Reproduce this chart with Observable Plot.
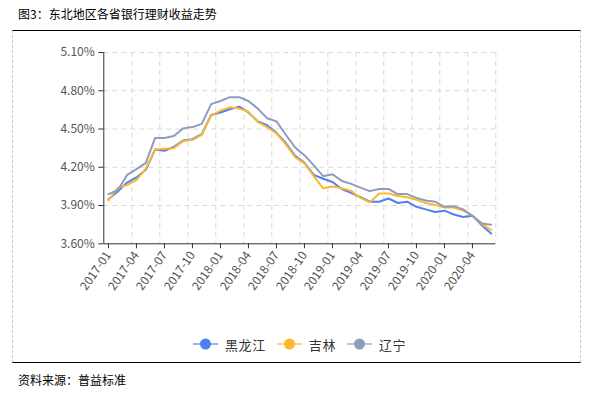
<!DOCTYPE html>
<html><head><meta charset="utf-8">
<script src="https://cdn.jsdelivr.net/npm/d3@7"></script>
<script src="https://cdn.jsdelivr.net/npm/@observablehq/plot@0.6"></script>
<style>
html,body{margin:0;padding:0;background:#fff;}
body{width:596px;height:393px;overflow:hidden;position:relative;font-family:"Microsoft YaHei","Noto Sans CJK SC",sans-serif;}
#title{position:absolute;left:18px;top:6px;font-size:12px;line-height:16px;color:#000;}
#frame{position:absolute;left:12px;top:30px;width:567px;height:331px;box-sizing:content-box;border-top:1.5px solid #000;border-bottom:1.5px solid #000;border-left:1px dashed #c8c8c8;border-right:1px dashed #c8c8c8;}
#chart{position:absolute;left:0;top:0;}
#legend{position:absolute;left:193px;top:336px;height:16px;display:flex;align-items:center;font-size:13px;color:#333;letter-spacing:0.6px;}
#legend .item{display:flex;align-items:center;margin-right:11px;}
#legend svg{margin-right:7px;}
#source{position:absolute;left:18px;top:372px;font-size:12px;line-height:16px;color:#000;}
</style></head>
<body>
<div id="title">图3：东北地区各省银行理财收益走势</div>
<div id="frame"></div>
<div id="chart"></div>
<div id="legend"></div>
<div id="source">资料来源：普益标准</div>
<script>
const months = ["2017-01","2017-02","2017-03","2017-04","2017-05","2017-06","2017-07","2017-08","2017-09","2017-10","2017-11","2017-12",
"2018-01","2018-02","2018-03","2018-04","2018-05","2018-06","2018-07","2018-08","2018-09","2018-10","2018-11","2018-12",
"2019-01","2019-02","2019-03","2019-04","2019-05","2019-06","2019-07","2019-08","2019-09","2019-10","2019-11","2019-12",
"2020-01","2020-02","2020-03","2020-04","2020-05","2020-06"];
const seriesNames = ["黑龙江","吉林","辽宁"];
const seriesColors = ["#4f80f2","#fdb92e","#909cbe"];
const heilongjiang = [3.95,4.01,4.08,4.12,4.18,4.34,4.33,4.36,4.41,4.42,4.46,4.61,
4.63,4.655,4.675,4.63,4.56,4.53,4.47,4.39,4.29,4.235,4.14,4.11,
4.085,4.03,4.00,3.965,3.93,3.93,3.955,3.92,3.93,3.89,3.87,3.85,
3.86,3.83,3.81,3.82,3.745,3.68];
const jilin = [3.94,4.04,4.06,4.10,4.19,4.34,4.345,4.35,4.405,4.415,4.455,4.605,
4.645,4.67,4.66,4.635,4.555,4.515,4.465,4.38,4.28,4.23,4.13,4.035,
4.05,4.035,4.015,3.96,3.925,3.995,3.995,3.975,3.965,3.945,3.92,3.905,
3.885,3.885,3.86,3.82,3.755,3.71];
const liaoning = [3.99,4.02,4.14,4.185,4.235,4.43,4.43,4.445,4.505,4.515,4.54,4.695,
4.72,4.75,4.75,4.72,4.66,4.585,4.56,4.455,4.355,4.295,4.215,4.13,
4.145,4.093,4.07,4.04,4.013,4.03,4.03,3.99,3.99,3.96,3.94,3.93,
3.89,3.895,3.87,3.82,3.76,3.75];
const yTicks = [3.6,3.9,4.2,4.5,4.8,5.1];
const tickEvery = 3;

const allSeries = [heilongjiang, jilin, liaoning];
const rows = [];
allSeries.forEach((arr, k) => arr.forEach((v, i) => rows.push({i, v, s: seriesNames[k]})));
const xTicks = months.map((m, i) => i).filter(i => i % tickEvery === 0);
const boundaries = d3.range(1, months.length / tickEvery + 1).map(k => k * tickEvery - 0.5);
const font = '"Microsoft YaHei","Noto Sans CJK SC",sans-serif';

const chart = Plot.plot({
  width: 596, height: 300,
  marginLeft: 103.3, marginRight: 100.7, marginTop: 52, marginBottom: 56.7,
  style: {background: "transparent", fontSize: "12px", fontFamily: font, color: "#555", overflow: "visible"},
  x: {type: "linear", domain: [-0.5, months.length - 0.5]},
  y: {domain: [yTicks[0], yTicks[yTicks.length - 1]]},
  color: {domain: seriesNames, range: seriesColors},
  marks: [
    Plot.gridY(yTicks.slice(1), {stroke: "#d9d9d9", strokeOpacity: 1, strokeDasharray: "5,4"}),
    Plot.gridX(boundaries, {stroke: "#d9d9d9", strokeOpacity: 1, strokeDasharray: "5,4"}),
    Plot.axisY(yTicks, {tickSize: 5, tickPadding: 4, stroke: "#333", fill: "#555", label: null, tickFormat: d => d.toFixed(2) + "%"}),
    Plot.axisX(xTicks, {tickSize: 5, tickPadding: 4, tickRotate: -55, stroke: "#333", fill: "#555", label: null, tickFormat: i => months[i]}),
    Plot.ruleX([-0.5], {stroke: "#333"}),
    Plot.ruleY([yTicks[0]], {stroke: "#333"}),
    Plot.line(rows, {x: "i", y: "v", z: "s", stroke: "s", strokeWidth: 2, strokeLinejoin: "round"})
  ]
});
document.getElementById("chart").appendChild(chart);

const legend = document.getElementById("legend");
seriesNames.forEach((name, k) => {
  const item = document.createElement("div");
  item.className = "item";
  const ns = "http://www.w3.org/2000/svg";
  const svg = document.createElementNS(ns, "svg");
  svg.setAttribute("width", 25); svg.setAttribute("height", 14);
  const ln = document.createElementNS(ns, "line");
  ln.setAttribute("x1", 0); ln.setAttribute("x2", 25); ln.setAttribute("y1", 7); ln.setAttribute("y2", 7);
  ln.setAttribute("stroke", seriesColors[k]); ln.setAttribute("stroke-width", 2); ln.setAttribute("stroke-opacity", 0.6);
  const c = document.createElementNS(ns, "circle");
  c.setAttribute("cx", 12.5); c.setAttribute("cy", 7); c.setAttribute("r", 5.5);
  c.setAttribute("fill", seriesColors[k]);
  svg.appendChild(ln); svg.appendChild(c);
  const t = document.createElement("span");
  t.textContent = name;
  item.appendChild(svg); item.appendChild(t);
  legend.appendChild(item);
});
</script>
</body></html>
